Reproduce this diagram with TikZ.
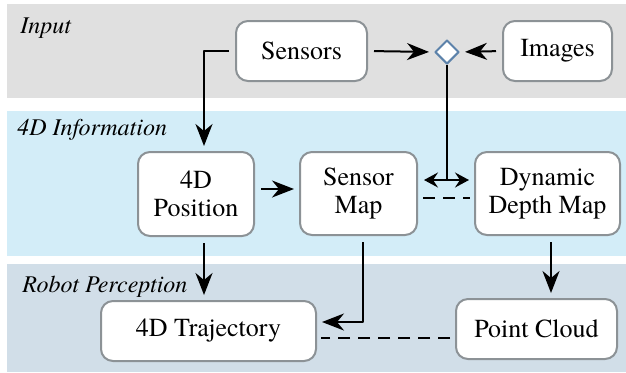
\documentclass[tikz,border=0pt]{standalone}
\usepackage{fontspec}
\setmainfont{TeX Gyre Termes}
\usetikzlibrary{shapes.geometric,arrows.meta}
\definecolor{inputband}{RGB}{224,224,224}
\definecolor{infoband}{RGB}{211,237,248}
\definecolor{robotband}{RGB}{209,222,232}
\definecolor{boxgray}{RGB}{140,146,150}
\definecolor{mergeblue}{RGB}{92,130,170}
\begin{document}
\begin{tikzpicture}[x=0.5pt,y=-0.5pt,line join=round,
box/.style={draw=boxgray,line width=1pt,fill=white,rounded corners=6pt,align=center,inner sep=0pt,font=\rmfamily\fontsize{13}{14}\selectfont},
lane/.style={anchor=base west,inner sep=0pt,font=\rmfamily\fontsize{12}{14}\selectfont\itshape},
tip/.style={-{Stealth[length=11pt,width=8.5pt,inset=3.5pt]}},
both/.style={{Stealth[length=7pt,width=7.5pt,inset=2.5pt]}-{Stealth[length=7pt,width=7.5pt,inset=2.5pt]}},
link/.style={line width=1pt,shorten <=3pt,shorten >=2.5pt},
dashlink/.style={line width=1pt,dash pattern=on 6pt off 4pt,shorten <=2.5pt,shorten >=2pt}]
\useasboundingbox (0,0) rectangle (626,372);
% bands
\fill[inputband] (7,4) rectangle (626,98);
\fill[infoband] (7,111) rectangle (626,256);
\fill[robotband] (7,264) rectangle (626,372);
\node[lane] (input) at (20,33) {Input};
\node[lane] (info) at (17,135) {4D Information};
\node[lane] (robot) at (22,292) {Robot Perception};
% boxes
\node[box,minimum width=65.5pt,minimum height=30pt] (sensors) at (301.5,51) {Sensors};
\node[box,minimum width=54.5pt,minimum height=30pt] (images) at (557.5,51) {Images};
\node[diamond,draw=mergeblue,fill=white,line width=1pt,inner sep=0pt,minimum size=12pt] (merge) at (447,52) {};
\node[box,minimum width=58pt,minimum height=42pt] (pos) at (196,194) {4D\\Position};
\node[box,minimum width=58.5pt,minimum height=41.5pt] (smap) at (358.5,193.5) {Sensor\\Map};
\node[box,minimum width=72.5pt,minimum height=41.5pt] (dmap) at (547.5,193.5) {Dynamic\\Depth Map};
\node[box,minimum width=107.5pt,minimum height=30pt] (traj) at (208.5,331) {4D Trajectory};
\node[box,minimum width=80.5pt,minimum height=30pt] (cloud) at (536.5,329) {Point Cloud};
% connectors
\coordinate (split) at (447,180);
\draw[link,tip] (sensors.west) -| ([xshift=4pt]pos.north);
\draw[link,tip] (sensors.east) -- (merge.west);
\draw[link,tip] (images.west) -- (merge.east);
\draw[line width=1pt] (merge.south) -- (split);
\draw[link,both] (split -| smap.east) -- (split -| dmap.west);
\draw[link,tip] ([yshift=2.5pt]pos.east) -- ([yshift=2.5pt]pos.east -| smap.west);
\draw[dashlink] ([yshift=-2pt]smap.east) -- ([yshift=-2pt]smap.east -| dmap.west);
\draw[link,tip] ([xshift=4pt]pos.south) -- ([xshift=4pt]pos.south |- traj.north);
\draw[link,tip] ([xshift=2pt]smap.south) |- ([yshift=4.5pt]traj.east);
\draw[link,tip] ([xshift=1.75pt]dmap.south) -- ([xshift=1.75pt]dmap.south |- cloud.north);
\draw[dashlink] ([yshift=-4.5pt]cloud.west) -- ([yshift=-4.5pt]cloud.west -| traj.east);
\end{tikzpicture}
\end{document}
